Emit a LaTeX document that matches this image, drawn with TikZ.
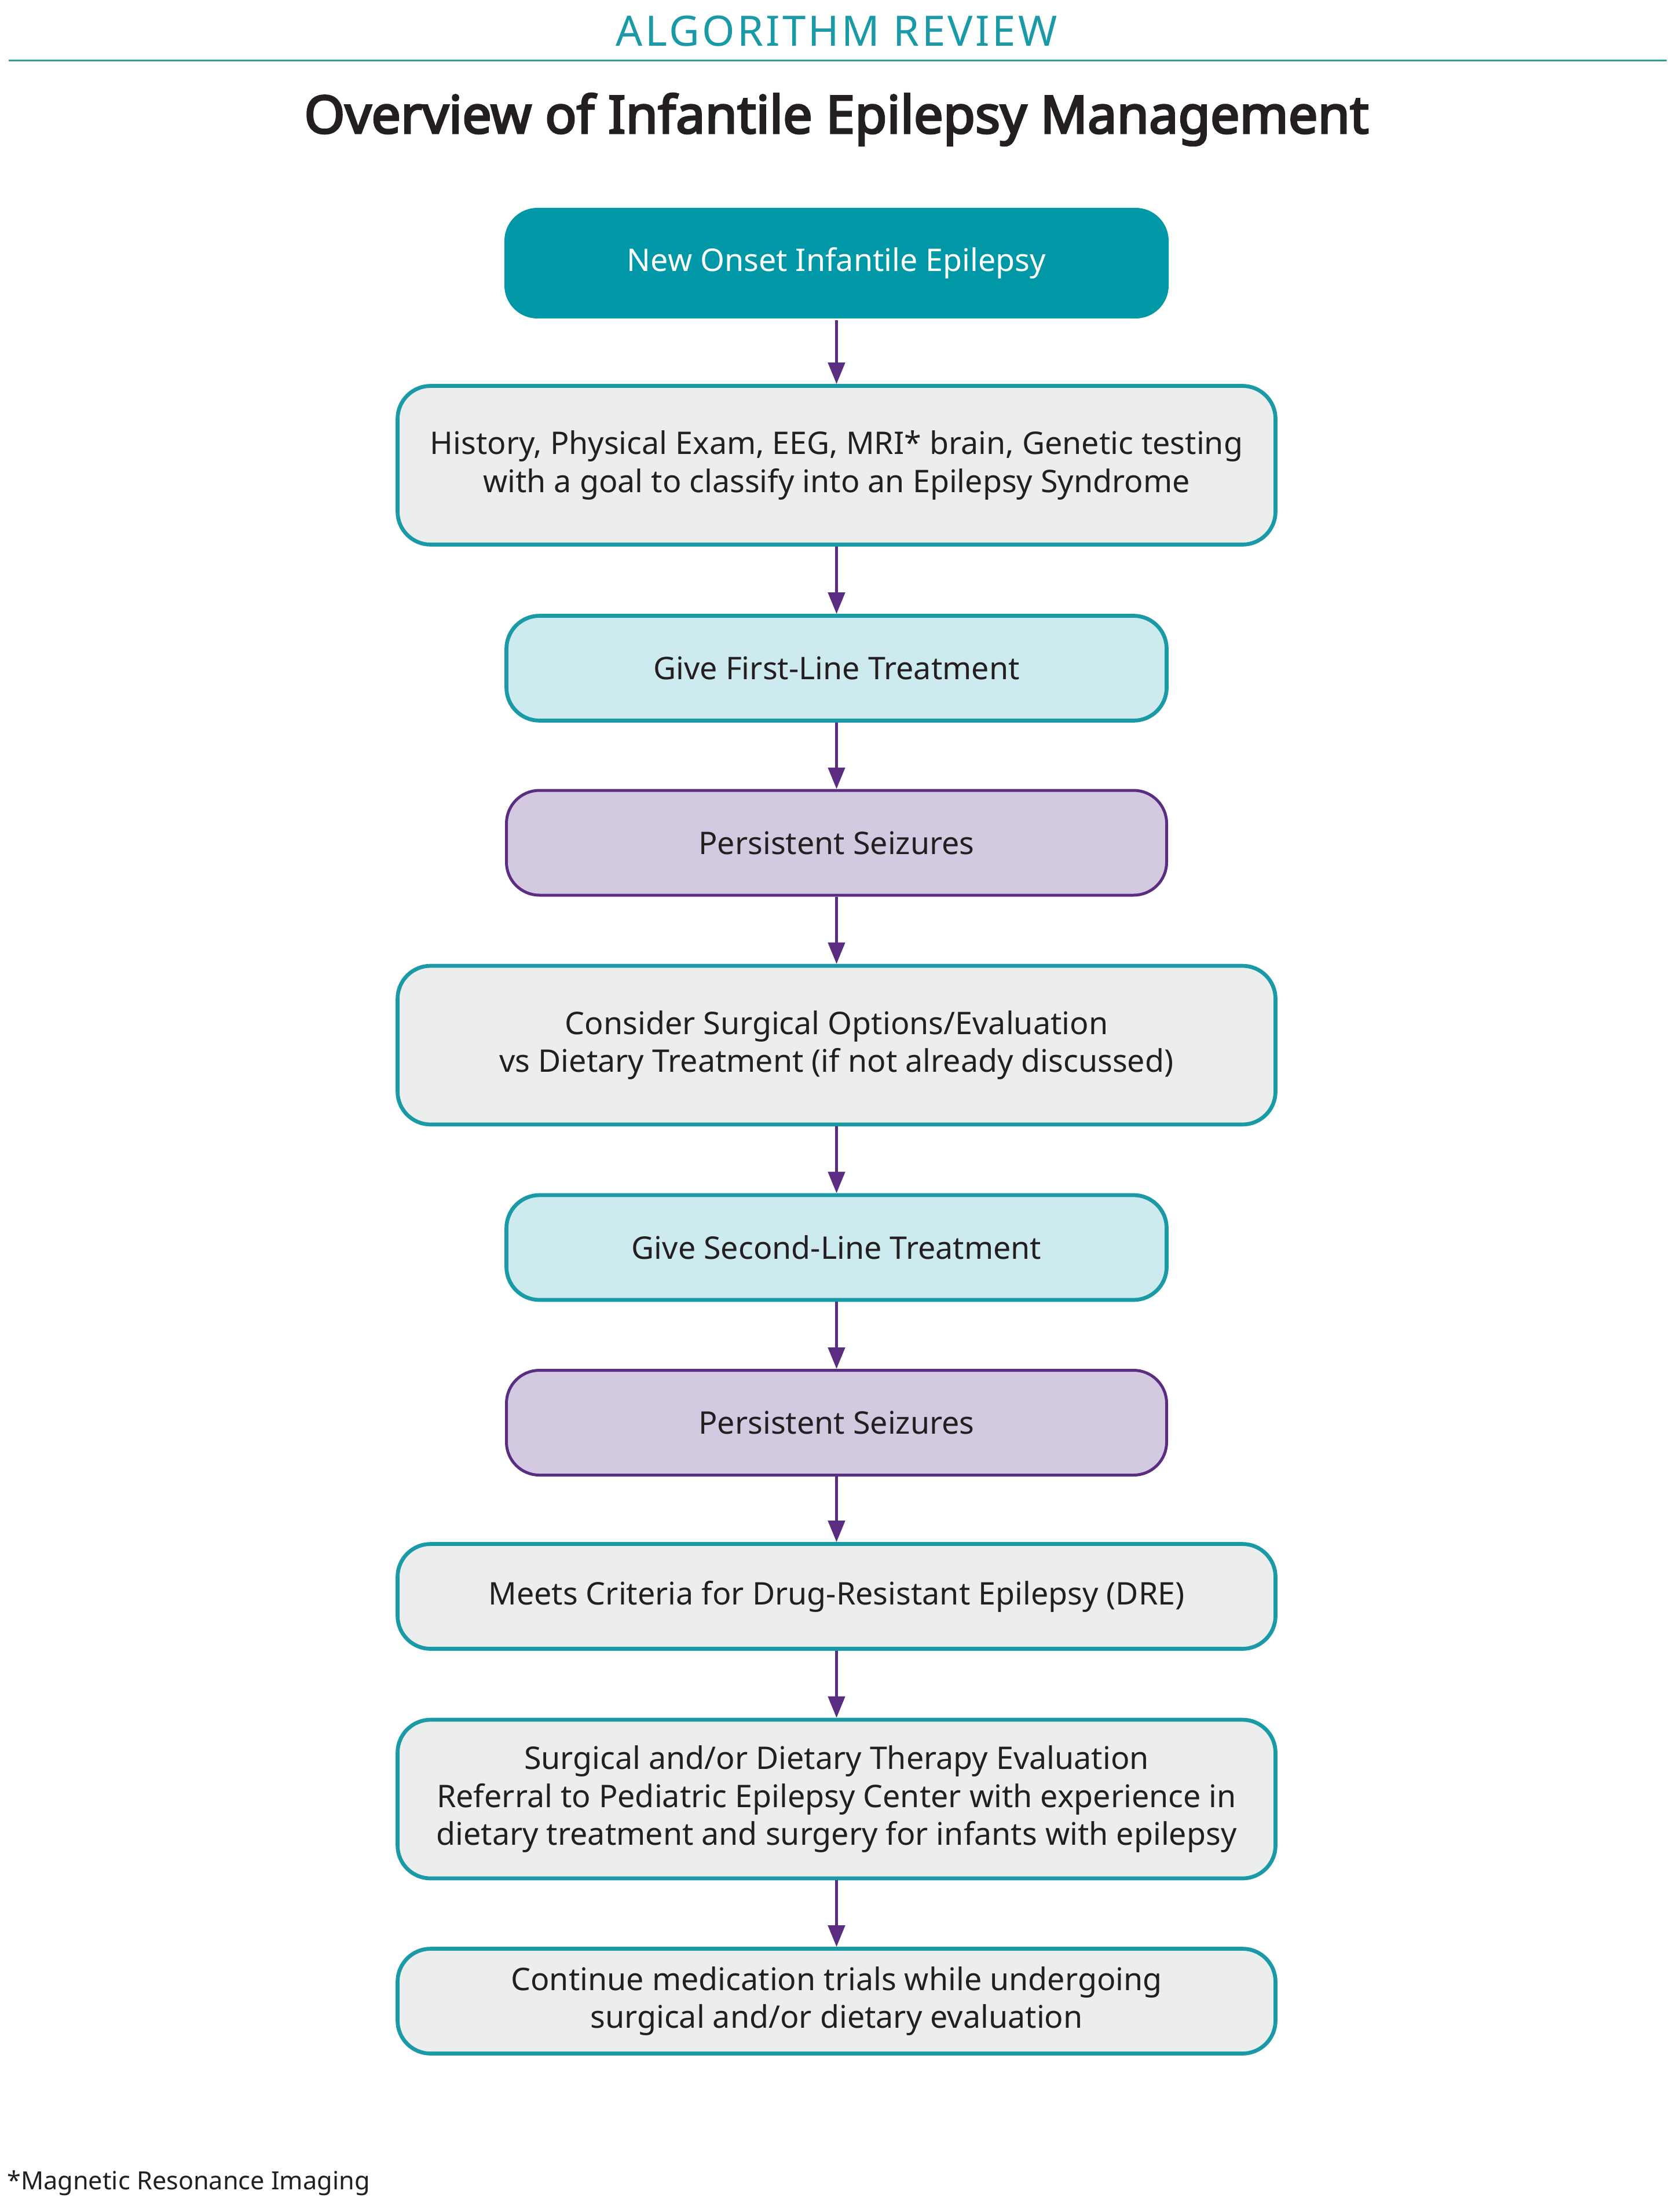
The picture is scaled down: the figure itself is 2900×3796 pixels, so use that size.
\documentclass[tikz,border=0pt]{standalone}
\usepackage{fontspec}
\setmainfont{Noto Sans}
\newfontfamily\heavyfont[FakeBold=3.6]{Noto Sans}
\newfontfamily\spacedfont[LetterSpace=6.0]{Noto Sans}
\usetikzlibrary{arrows.meta}
\definecolor{tealfill}{HTML}{0098A7}
\definecolor{tealline}{HTML}{1A9AA7}
\definecolor{grayfill}{HTML}{ECEEEE}
\definecolor{cyanfill}{HTML}{CDEAEE}
\definecolor{lavfill}{HTML}{D3C9E1}
\definecolor{purpline}{HTML}{5A2D82}
\definecolor{rulecol}{HTML}{2F9E98}
\definecolor{ink}{HTML}{231F20}
\tikzset{
    box/.style={rounded corners=5.7mm, line width=0.67mm, draw=tealline, fill=grayfill,
        align=center, inner sep=0pt, text=ink, font=\fontsize{15.3}{18.7}\selectfont},
    narrowbox/.style={box, minimum width=114.0mm, minimum height=18.1mm},
    widebox/.style={box, minimum width=151.6mm, minimum height=18.1mm},
    tallbox/.style={box, minimum width=151.6mm, minimum height=27.4mm},
    startbox/.style={narrowbox, draw=none, fill=tealfill, text=white,
        minimum width=114.7mm, minimum height=19.1mm},
    treatbox/.style={narrowbox, fill=cyanfill},
    seizbox/.style={narrowbox, draw=purpline, fill=lavfill, line width=0.5mm},
    flow/.style={draw=purpline, line width=0.47mm, -{Triangle[width=2.9mm,length=3.7mm]}},
    % flow/.style={->, purpline},
}
\begin{document}
\begin{tikzpicture}[x=0.1mm, y=-0.1mm]
        \useasboundingbox (0,0) rectangle (2900,3796);
        \node[anchor=base, text=tealline, font=\spacedfont\fontsize{20.6}{24}\selectfont] (head) at (1444.5,80) {ALGORITHM REVIEW};
        \draw[rulecol, line width=0.3mm] (15,105) -- (2878,105);
        \node[anchor=base, text=ink, font=\heavyfont\fontsize{25.6}{30}\selectfont] (title) at (1444.5,230) {Overview of Infantile Epilepsy Management};

        \node[startbox] (onset) at (1444.5,454.5) {New Onset Infantile Epilepsy};
        \node[tallbox] (hist) at (1444.5,803.5) {History, Physical Exam, EEG, MRI* brain, Genetic testing\\with a goal to classify into an Epilepsy Syndrome};
        \node[treatbox] (first) at (1444.5,1154) {Give First-Line Treatment};
        \node[seizbox] (pers1) at (1444.5,1455.5) {Persistent Seizures};
        \node[tallbox] (surg) at (1444.5,1805) {Consider Surgical Options/Evaluation\\vs Dietary Treatment (if not already discussed)};
        \node[treatbox] (second) at (1444.5,2154.5) {Give Second-Line Treatment};
        \node[seizbox] (pers2) at (1444.5,2457) {Persistent Seizures};
        \node[widebox] (dre) at (1444.5,2757) {Meets Criteria for Drug-Resistant Epilepsy (DRE)};
        \node[tallbox] (ref) at (1444.5,3107) {Surgical and/or Dietary Therapy Evaluation\\Referral to Pediatric Epilepsy Center with experience in\\dietary treatment and surgery for infants with epilepsy};
        \node[widebox] (cont) at (1444.5,3456) {Continue medication trials while undergoing\\surgical and/or dietary evaluation};

        \node[anchor=base west, text=ink, font=\fontsize{12.3}{14}\selectfont] (note) at (0,3781) {*Magnetic Resonance Imaging};

        \draw[flow] (onset) -- (hist);
        \draw[flow] (hist) -- (first);
        \draw[flow] (first) -- (pers1);
        \draw[flow] (pers1) -- (surg);
        \draw[flow] (surg) -- (second);
        \draw[flow] (second) -- (pers2);
        \draw[flow] (pers2) -- (dre);
        \draw[flow] (dre) -- (ref);
        \draw[flow] (ref) -- (cont);
    \end{tikzpicture}
\end{document}
